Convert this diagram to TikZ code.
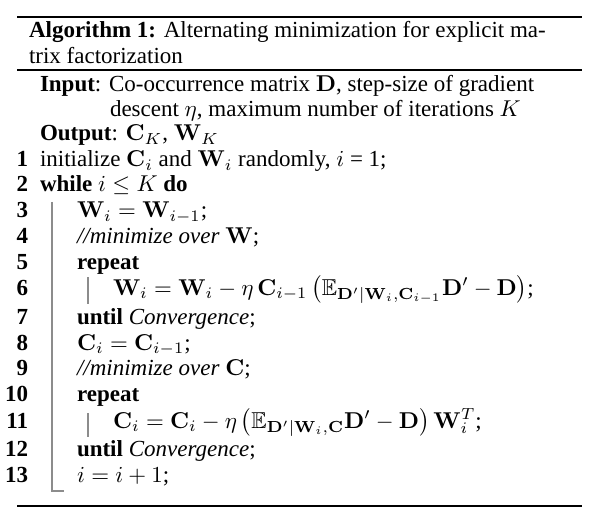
\documentclass[tikz,border=0pt]{standalone}
\usepackage{amsmath,amssymb}
\usepackage[no-math]{fontspec}
\setmainfont{Liberation Serif}
\newcommand{\bD}{\mathbf{D}}
\newcommand{\bW}{\mathbf{W}}
\newcommand{\bC}{\mathbf{C}}
\newcommand{\algsz}[1]{\scalebox{2.3}{\fontsize{10bp}{12bp}\selectfont #1}}
\begin{document}
\begin{tikzpicture}[x=1bp,y=-1bp,
  txt/.style={anchor=base west,inner sep=0pt,outer sep=0pt},
  num/.style={anchor=base east,inner sep=0pt,outer sep=0pt},
  rulel/.style={line width=1.8bp,black},
  barl/.style={line width=1.1bp,black!45}]
\useasboundingbox (0,0) rectangle (594,524);
\draw[rulel] (17,17) -- (582,17);
\draw[rulel] (17,70) -- (582,70);
\draw[rulel] (17,506) -- (582,506);
\node[txt] (cap1) at (29,38) {\algsz{\textbf{Algorithm 1:} Alternating minimization for explicit ma-}};
\node[txt] (cap2) at (29,64) {\algsz{trix factorization}};
\node[txt] (in1) at (40,92) {\algsz{\textbf{Input}: Co-occurrence matrix $\bD$, step-size of gradient}};
\node[txt] (in2) at (110,117) {\algsz{descent $\eta$, maximum number of iterations $K$}};
\node[txt] (out) at (40,141) {\algsz{\textbf{Output}: $\bC_K$, $\bW_K$}};
\node[num] (n1) at (28,167) {\algsz{\bfseries 1}};
\node[txt] (l1) at (40,167) {\algsz{initialize $\bC_i$ and $\bW_i$ randomly, $i$ = 1;}};
\node[num] (n2) at (28,192) {\algsz{\bfseries 2}};
\node[txt] (l2) at (40,192) {\algsz{\textbf{while} $i \le K$ \textbf{do}}};
\node[num] (n3) at (28,218) {\algsz{\bfseries 3}};
\node[txt] (l3) at (77,218) {\algsz{$\bW_i = \bW_{i-1}$;}};
\node[num] (n4) at (28,243) {\algsz{\bfseries 4}};
\node[txt] (l4) at (77,243) {\algsz{\textit{//minimize over} $\bW$;}};
\node[num] (n5) at (28,269) {\algsz{\bfseries 5}};
\node[txt] (l5) at (77,269) {\algsz{\textbf{repeat}}};
\node[num] (n6) at (28,295) {\algsz{\bfseries 6}};
\node[txt] (l6) at (113,295) {\algsz{$\bW_i = \bW_i - \eta\,\bC_{i-1}\,\bigl(\mathbb{E}_{\bD'|\bW_i,\bC_{i-1}}\bD' - \bD\bigr)$;}};
\node[num] (n7) at (28,324) {\algsz{\bfseries 7}};
\node[txt] (l7) at (77,324) {\algsz{\textbf{until} \textit{Convergence};}};
\node[num] (n8) at (28,350) {\algsz{\bfseries 8}};
\node[txt] (l8) at (77,350) {\algsz{$\bC_i = \bC_{i-1}$;}};
\node[num] (n9) at (28,375) {\algsz{\bfseries 9}};
\node[txt] (l9) at (77,375) {\algsz{\textit{//minimize over} $\bC$;}};
\node[num] (n10) at (28,401) {\algsz{\bfseries 10}};
\node[txt] (l10) at (77,401) {\algsz{\textbf{repeat}}};
\node[num] (n11) at (28,428) {\algsz{\bfseries 11}};
\node[txt] (l11) at (113,428) {\algsz{$\bC_i = \bC_i - \eta\,\bigl(\mathbb{E}_{\bD'|\bW_i,\bC}\bD' - \bD\bigr)\,\bW_i^T$;}};
\node[num] (n12) at (28,456) {\algsz{\bfseries 12}};
\node[txt] (l12) at (77,456) {\algsz{\textbf{until} \textit{Convergence};}};
\node[num] (n13) at (28,482) {\algsz{\bfseries 13}};
\node[txt] (l13) at (77,482) {\algsz{$i = i + 1$;}};
\draw[barl] (52,202) -- (52,491) -- (64,491);
\draw[barl] (88,277) -- (88,304);
\draw[barl] (88,413) -- (88,437);
\end{tikzpicture}
\end{document}
